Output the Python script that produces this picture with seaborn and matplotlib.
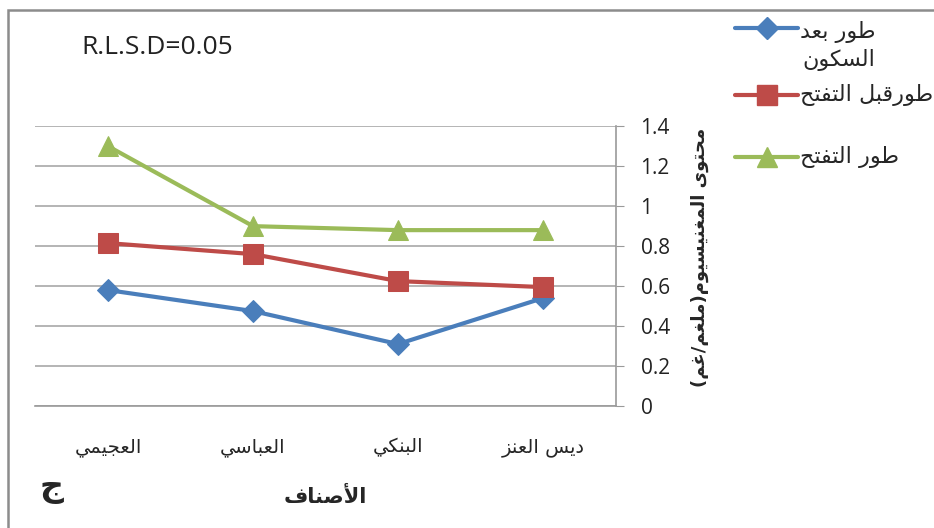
import pandas as pd
import matplotlib
matplotlib.use('Agg')
import matplotlib.pyplot as plt
import seaborn as sns
from matplotlib.lines import Line2D
from matplotlib.patches import Rectangle

# data
varieties = ['العجيمي', 'العباسي', 'البنكي', 'ديس العنز']
stages = ['طور بعد السكون', 'طورقبل التفتح', 'طور التفتح']
after_dormancy = [0.58, 0.475, 0.31, 0.54]
before_bloom = [0.815, 0.76, 0.625, 0.595]
bloom = [1.30, 0.90, 0.88, 0.88]
y_ticks = [0, 0.2, 0.4, 0.6, 0.8, 1, 1.2, 1.4]

colors = ['#4a7ebb', '#be4b48', '#9bbb59']
markers = ['D', 's', '^']
marker_sizes = [11, 14, 14]

# --- minimal arabic shaping (matplotlib has no bidi / joining) ---
FORMS = {
    '\u0627': ('\uFE8D', '\uFE8E', None, None),
    '\u0623': ('\uFE83', '\uFE84', None, None),
    '\u0628': ('\uFE8F', '\uFE90', '\uFE91', '\uFE92'),
    '\u062A': ('\uFE95', '\uFE96', '\uFE97', '\uFE98'),
    '\u062C': ('\uFE9D', '\uFE9E', '\uFE9F', '\uFEA0'),
    '\u062D': ('\uFEA1', '\uFEA2', '\uFEA3', '\uFEA4'),
    '\u062F': ('\uFEA9', '\uFEAA', None, None),
    '\u0631': ('\uFEAD', '\uFEAE', None, None),
    '\u0632': ('\uFEAF', '\uFEB0', None, None),
    '\u0633': ('\uFEB1', '\uFEB2', '\uFEB3', '\uFEB4'),
    '\u0635': ('\uFEB9', '\uFEBA', '\uFEBB', '\uFEBC'),
    '\u0637': ('\uFEC1', '\uFEC2', '\uFEC3', '\uFEC4'),
    '\u0639': ('\uFEC9', '\uFECA', '\uFECB', '\uFECC'),
    '\u063A': ('\uFECD', '\uFECE', '\uFECF', '\uFED0'),
    '\u0641': ('\uFED1', '\uFED2', '\uFED3', '\uFED4'),
    '\u0642': ('\uFED5', '\uFED6', '\uFED7', '\uFED8'),
    '\u0643': ('\uFED9', '\uFEDA', '\uFEDB', '\uFEDC'),
    '\u0644': ('\uFEDD', '\uFEDE', '\uFEDF', '\uFEE0'),
    '\u0645': ('\uFEE1', '\uFEE2', '\uFEE3', '\uFEE4'),
    '\u0646': ('\uFEE5', '\uFEE6', '\uFEE7', '\uFEE8'),
    '\u0648': ('\uFEED', '\uFEEE', None, None),
    '\u0649': ('\uFEEF', '\uFEF0', None, None),
    '\u064A': ('\uFEF1', '\uFEF2', '\uFEF3', '\uFEF4'),
}
LAM_ALEF = {'\u0627': ('\uFEFB', '\uFEFC'), '\u0623': ('\uFEF7', '\uFEF8')}


def joins_next(c):
    return c in FORMS and FORMS[c][2] is not None


def ar(text):
    lines = []
    for line in text.split('\n'):
        res = []
        i = 0
        n = len(line)
        while i < n:
            c = line[i]
            if c not in FORMS:
                res.append(c)
                i += 1
                continue
            prev_joins = i > 0 and joins_next(line[i - 1])
            if c == '\u0644' and i + 1 < n and line[i + 1] in LAM_ALEF:
                lig = LAM_ALEF[line[i + 1]]
                res.append(lig[1] if prev_joins else lig[0])
                i += 2
                continue
            next_joins = joins_next(c) and i + 1 < n and line[i + 1] in FORMS
            iso, fin, ini, med = FORMS[c]
            if prev_joins and next_joins:
                res.append(med)
            elif prev_joins:
                res.append(fin)
            elif next_joins:
                res.append(ini)
            else:
                res.append(iso)
            i += 1
        vis = ''.join(reversed(res))
        lines.append(vis.translate(str.maketrans('()', ')(')))
    return '\n'.join(lines)


sns.set_style('white')
plt.rcParams['font.family'] = ['Open Sans', 'DejaVu Sans']
AR_FONT = ['DejaVu Sans']

df = pd.DataFrame({
    'variety': varieties * 3,
    'stage': [s for s in stages for _ in varieties],
    'value': after_dormancy + before_bloom + bloom,
})

fig = plt.figure(figsize=(9.34, 5.28), dpi=100)
ax = fig.add_axes([0.038, 0.231, 0.621, 0.530])

sns.lineplot(data=df, x='variety', y='value', hue='stage', style='stage',
             palette=dict(zip(stages, colors)), markers=dict(zip(stages, markers)),
             dashes=False, linewidth=3, markersize=13, ax=ax, legend=False)
for line, ms, col in zip(ax.lines, marker_sizes, colors):
    line.set_markersize(ms)
    line.set_markeredgecolor(col)
    line.set_markerfacecolor(col)

ax.set_xlim(-0.5, 3.5)
ax.set_ylim(0, 1.4)
ax.set_yticks(y_ticks)
ax.set_yticklabels([f'{v:g}' for v in y_ticks])
ax.yaxis.tick_right()
ax.tick_params(axis='y', direction='out', length=6, color='#9a9a9a',
               labelsize=15, pad=12, labelcolor='#222222')
ax.grid(axis='y', color='#a8a8a8', linewidth=1.2)
ax.set_axisbelow(True)

ax.set_xticks(range(len(varieties)))
ax.set_xticklabels([ar(v) for v in varieties], family=AR_FONT, fontsize=14)
ax.set_xticks([x - 0.5 for x in range(len(varieties) + 1)], minor=True)
ax.tick_params(axis='x', which='major', length=0, pad=23)
ax.tick_params(axis='x', which='minor', direction='out', length=6, color='#9a9a9a')

for side in ['top', 'left']:
    ax.spines[side].set_visible(False)
for side in ['right', 'bottom']:
    ax.spines[side].set_color('#9a9a9a')
    ax.spines[side].set_linewidth(1.2)

ax.set_xlabel(ar('الأصناف'), family=AR_FONT, fontsize=15, fontweight='bold', va='center')
ax.xaxis.set_label_coords(0.499, -0.325)
ax.yaxis.set_label_position('right')
ax.set_ylabel(ar('محتوى المغنيسيوم(ملغم/غم)'), family=AR_FONT, fontsize=13,
              fontweight='bold', rotation=90, va='center')
ax.yaxis.set_label_coords(1.146, 0.53)

W, H = 934, 528
fig.text(81 / W, 1 - 47 / H, 'R.L.S.D=0.05', fontsize=19, va='center', color='#222222')
fig.text(52 / W, 1 - 488 / H, 'ج', family=AR_FONT, fontsize=24,
         fontweight='bold', ha='center', va='center')

# legend drawn by hand to get the excel-like spacing
legend_y = [28, 95, 157]
legend_labels = ['طور بعد\nالسكون', 'طورقبل التفتح', 'طور التفتح']
for y, lab, col, mk, ms in zip(legend_y, legend_labels, colors, markers, marker_sizes):
    fy = 1 - y / H
    fig.add_artist(Line2D([735 / W, 798 / W], [fy, fy], color=col, lw=3,
                          transform=fig.transFigure))
    fig.add_artist(Line2D([767 / W], [fy], color=col, marker=mk, markersize=ms,
                          transform=fig.transFigure))
    if '\n' in lab:
        fig.text(800 / W, 1 - 46 / H, ar(lab), family=AR_FONT, fontsize=16,
                 va='center', ha='left', multialignment='right', linespacing=1.4)
    else:
        fig.text(800 / W, fy, ar(lab), family=AR_FONT, fontsize=16, va='center', ha='left')

fig.add_artist(Rectangle((8 / W, -0.1), 2, 1.1 - 10 / H, transform=fig.transFigure,
                         fill=False, edgecolor='#8c8c8c', linewidth=1.8))

fig.savefig('out.png', dpi=100)
